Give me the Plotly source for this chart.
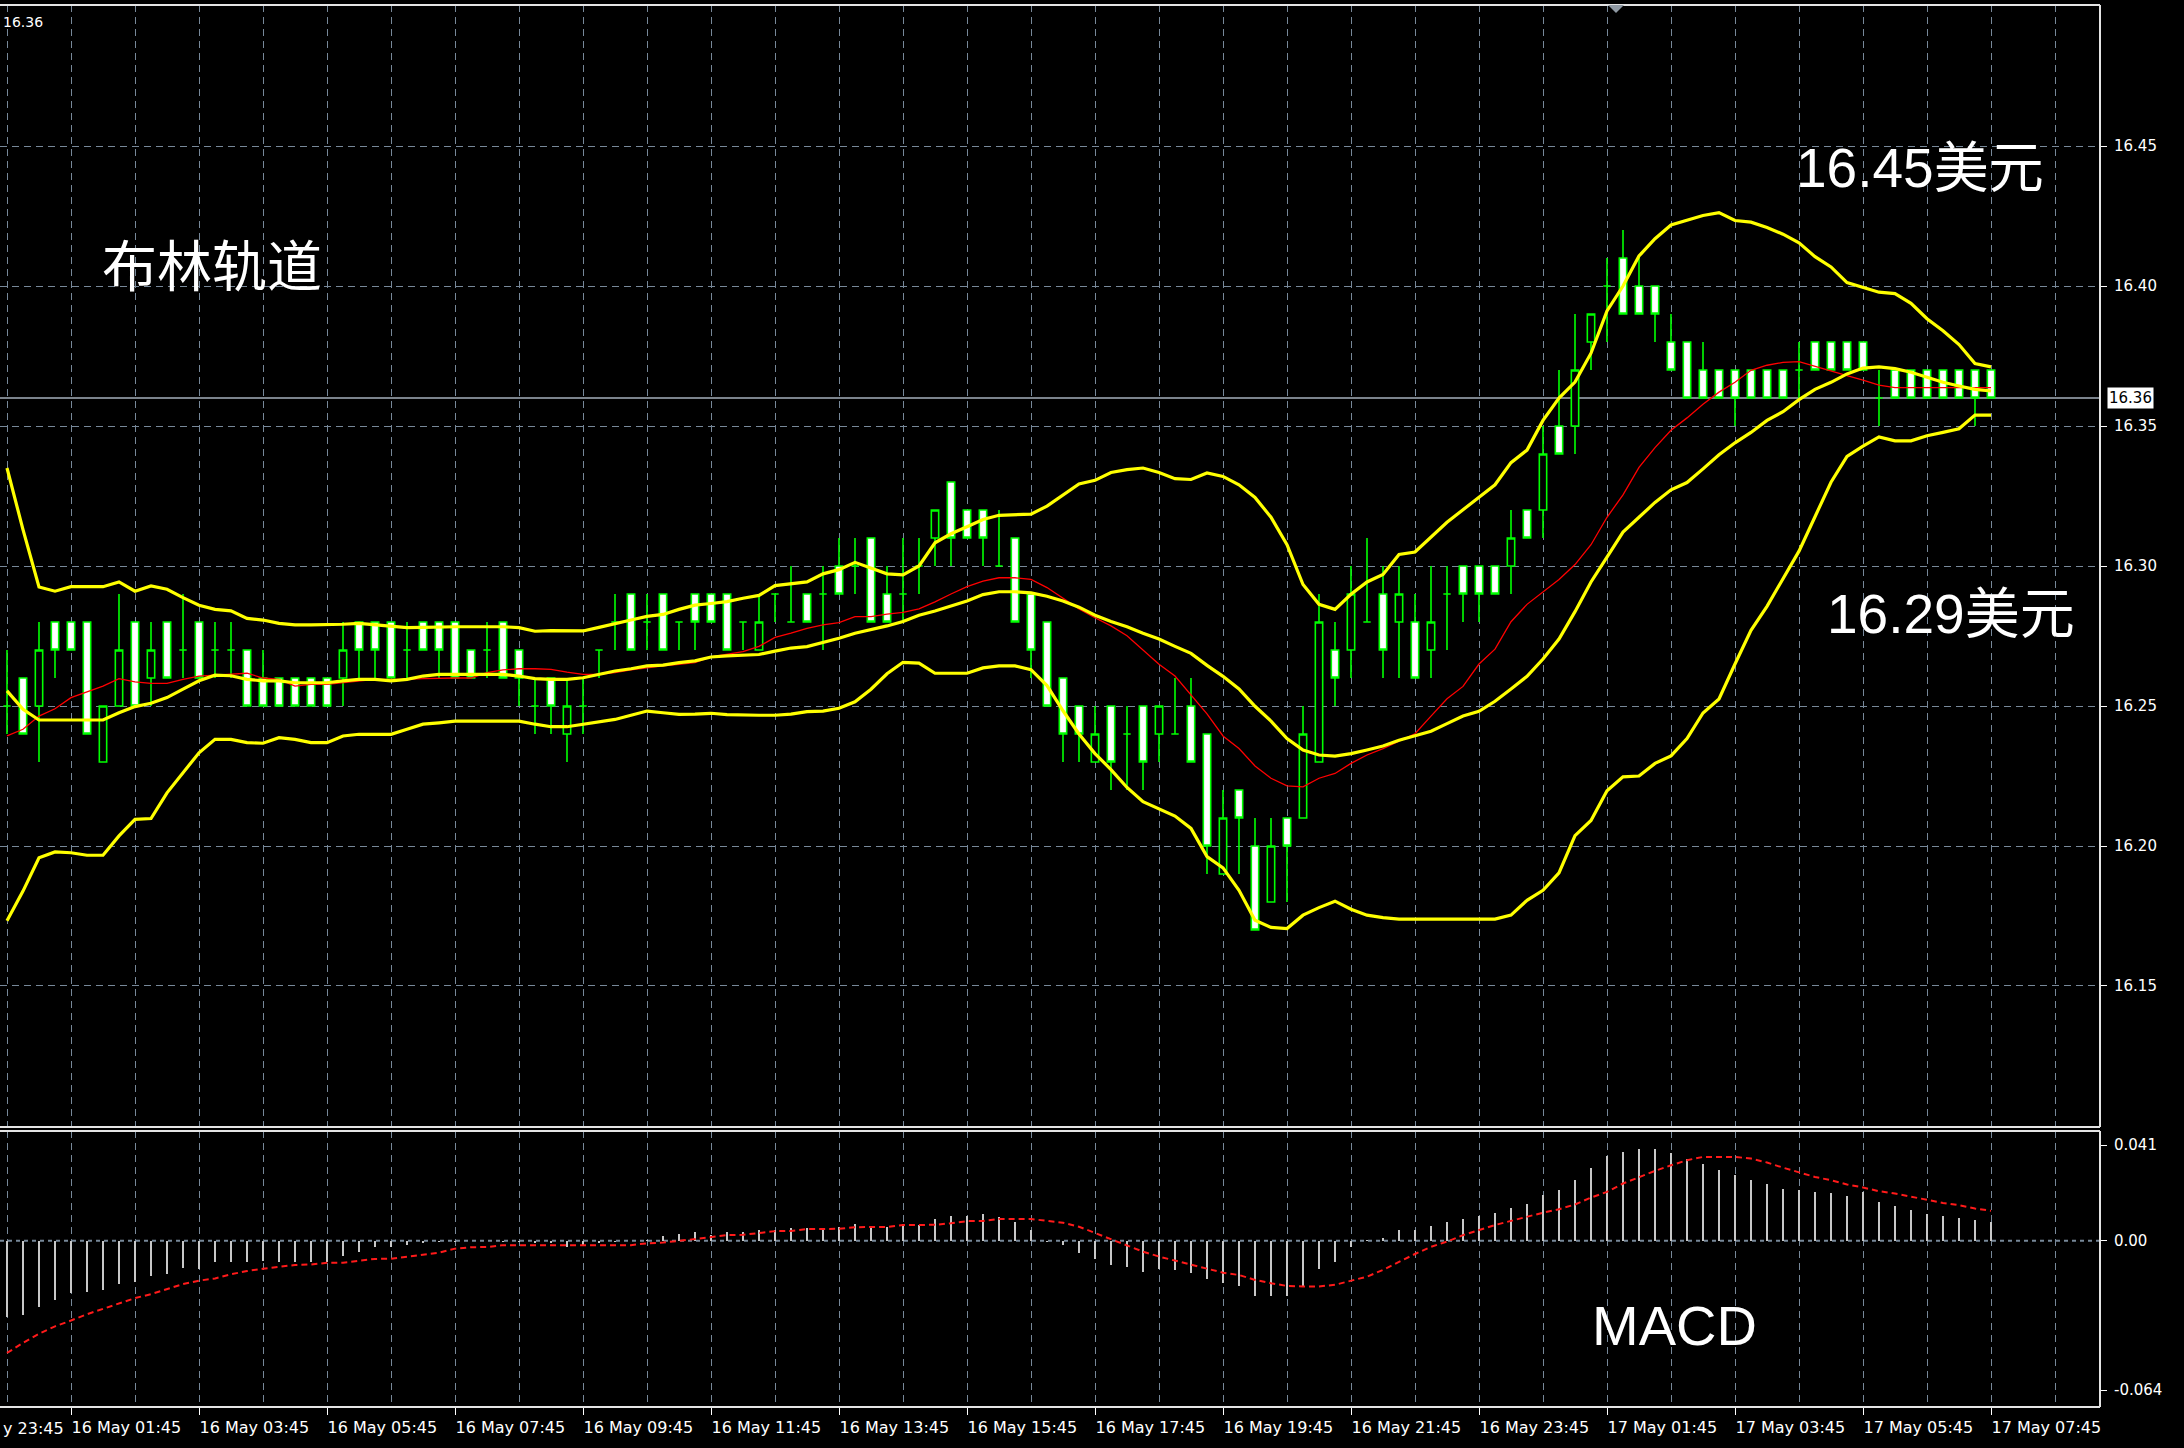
import plotly.graph_objects as go

# ---------------- data (M15 bars, 16 May 00:45 -> 17 May 07:45) ----------------
bars = list(range(125))

open_ = [
16.25,16.26,16.25,16.28,16.28,16.28,16.23,16.25,16.28,16.26,
16.28,16.27,16.28,16.27,16.27,16.27,16.26,16.26,16.26,16.26,
16.26,16.26,16.28,16.28,16.28,16.27,16.28,16.28,16.28,16.27,
16.27,16.28,16.27,16.25,16.26,16.24,16.25,16.27,16.28,16.29,
16.28,16.29,16.28,16.29,16.29,16.29,16.28,16.27,16.29,16.28,
16.29,16.29,16.30,16.30,16.31,16.29,16.29,16.30,16.31,16.33,
16.32,16.32,16.30,16.31,16.29,16.28,16.26,16.25,16.23,16.25,
16.24,16.25,16.24,16.24,16.25,16.24,16.19,16.22,16.20,16.18,
16.21,16.21,16.23,16.27,16.27,16.28,16.29,16.28,16.28,16.27,
16.29,16.30,16.30,16.30,16.30,16.32,16.32,16.35,16.35,16.38,
16.40,16.41,16.40,16.40,16.38,16.38,16.37,16.37,16.37,16.37,
16.37,16.37,16.37,16.38,16.38,16.38,16.38,16.36,16.37,16.37,
16.37,16.37,16.37,16.37,16.37]

high = [
16.27,16.26,16.28,16.28,16.28,16.28,16.25,16.29,16.28,16.28,
16.28,16.29,16.28,16.28,16.28,16.27,16.27,16.26,16.26,16.26,
16.26,16.28,16.28,16.28,16.28,16.28,16.28,16.28,16.28,16.27,
16.28,16.28,16.27,16.26,16.26,16.26,16.26,16.27,16.29,16.29,
16.29,16.29,16.28,16.29,16.29,16.29,16.28,16.29,16.29,16.30,
16.29,16.30,16.31,16.31,16.31,16.30,16.31,16.31,16.32,16.33,
16.32,16.32,16.32,16.31,16.29,16.28,16.26,16.25,16.25,16.25,
16.25,16.25,16.25,16.26,16.26,16.24,16.22,16.22,16.21,16.21,
16.21,16.25,16.29,16.28,16.30,16.31,16.30,16.30,16.29,16.30,
16.30,16.30,16.30,16.30,16.32,16.32,16.35,16.37,16.39,16.39,
16.41,16.42,16.41,16.40,16.39,16.38,16.38,16.37,16.37,16.37,
16.37,16.37,16.38,16.38,16.38,16.38,16.38,16.37,16.37,16.37,
16.37,16.37,16.37,16.37,16.37]

low = [
16.24,16.24,16.23,16.26,16.27,16.24,16.23,16.25,16.25,16.25,
16.26,16.26,16.26,16.26,16.26,16.25,16.25,16.25,16.25,16.25,
16.25,16.25,16.26,16.26,16.26,16.26,16.27,16.26,16.26,16.26,
16.26,16.26,16.25,16.24,16.24,16.23,16.24,16.26,16.27,16.27,
16.27,16.27,16.27,16.27,16.28,16.27,16.27,16.27,16.28,16.28,
16.28,16.27,16.29,16.29,16.28,16.28,16.28,16.29,16.30,16.30,
16.31,16.30,16.30,16.28,16.26,16.25,16.23,16.23,16.23,16.22,
16.22,16.22,16.23,16.24,16.23,16.19,16.19,16.19,16.17,16.18,
16.18,16.21,16.23,16.25,16.26,16.28,16.26,16.26,16.26,16.26,
16.27,16.28,16.28,16.29,16.29,16.31,16.31,16.34,16.34,16.37,
16.38,16.39,16.39,16.38,16.37,16.36,16.36,16.36,16.35,16.36,
16.36,16.36,16.36,16.37,16.37,16.37,16.37,16.35,16.36,16.36,
16.36,16.36,16.36,16.35,16.36]

close = [
16.25,16.24,16.27,16.27,16.27,16.24,16.25,16.27,16.25,16.27,
16.26,16.27,16.26,16.27,16.27,16.25,16.25,16.25,16.25,16.25,
16.25,16.27,16.27,16.27,16.26,16.27,16.27,16.27,16.26,16.26,
16.27,16.26,16.26,16.25,16.25,16.25,16.25,16.27,16.28,16.27,
16.28,16.27,16.28,16.28,16.28,16.27,16.28,16.28,16.29,16.28,
16.28,16.29,16.29,16.30,16.28,16.28,16.29,16.30,16.32,16.31,
16.31,16.31,16.30,16.28,16.27,16.25,16.24,16.24,16.24,16.23,
16.24,16.23,16.25,16.24,16.23,16.20,16.21,16.21,16.17,16.20,
16.20,16.24,16.28,16.26,16.29,16.28,16.27,16.29,16.26,16.28,
16.29,16.29,16.29,16.29,16.31,16.31,16.34,16.34,16.37,16.39,
16.40,16.39,16.39,16.39,16.37,16.36,16.36,16.36,16.36,16.36,
16.36,16.36,16.37,16.37,16.37,16.37,16.37,16.36,16.36,16.36,
16.36,16.36,16.36,16.36,16.36]

boll_upper = [
16.335,16.313,16.2925,16.291,16.2926,16.2926,16.2926,16.2943,16.291,16.2929,
16.2917,16.2887,16.286,16.2845,16.284,16.2813,16.2807,16.2795,16.279,16.279,
16.279,16.2792,16.2795,16.279,16.2783,16.278,16.2781,16.2783,16.2783,16.2783,
16.2783,16.2783,16.278,16.2767,16.2769,16.2769,16.2768,16.2781,16.2795,16.2807,
16.282,16.2827,16.2845,16.286,16.2866,16.2873,16.2885,16.2895,16.293,16.2936,
16.2943,16.2972,16.2987,16.3013,16.2994,16.2972,16.2968,16.30,16.3083,16.3115,
16.314,16.3166,16.3181,16.3184,16.3185,16.3214,16.3255,16.3293,16.3306,16.3334,
16.3344,16.335,16.3334,16.3312,16.3309,16.3332,16.332,16.329,16.3245,16.3174,
16.3076,16.2934,16.2863,16.2845,16.2899,16.2943,16.297,16.3041,16.305,16.3103,
16.3156,16.3201,16.3245,16.329,16.3369,16.3414,16.352,16.36,16.3657,16.376,
16.3911,16.40,16.4107,16.4169,16.4218,16.4236,16.4252,16.4262,16.4234,16.4228,
16.4209,16.4185,16.4154,16.4105,16.4068,16.4012,16.3994,16.3978,16.3973,16.3938,
16.3883,16.384,16.3791,16.3723,16.3711]

boll_middle = [
16.2554,16.2488,16.245,16.245,16.245,16.245,16.245,16.2476,16.2498,16.251,
16.253,16.256,16.259,16.261,16.2608,16.2595,16.259,16.259,16.2583,16.2583,
16.2583,16.259,16.2595,16.2595,16.259,16.2595,16.2607,16.2613,16.2613,16.2613,
16.2613,16.2613,16.2607,16.2598,16.2595,16.2595,16.2601,16.2613,16.2625,16.2633,
16.2643,16.2646,16.2655,16.2661,16.2675,16.2679,16.2681,16.2684,16.2696,16.2707,
16.2712,16.2726,16.2742,16.276,16.2773,16.2786,16.2802,16.2824,16.2839,16.2857,
16.2875,16.2898,16.2908,16.2908,16.2904,16.2892,16.2875,16.2853,16.2824,16.2802,
16.2783,16.276,16.2739,16.2713,16.2688,16.2645,16.2606,16.2561,16.2499,16.2446,
16.2384,16.2343,16.2325,16.2321,16.233,16.2343,16.2357,16.2378,16.2393,16.241,
16.2437,16.2464,16.2481,16.2517,16.2561,16.2606,16.2668,16.2739,16.2837,16.2943,
16.3032,16.3121,16.3174,16.3227,16.3272,16.3298,16.3347,16.3397,16.344,16.3477,
16.352,16.3551,16.3594,16.3631,16.3656,16.3686,16.3707,16.3711,16.3705,16.3692,
16.3674,16.3656,16.3643,16.3631,16.3625]

boll_lower = [
16.1733,16.1839,16.1958,16.1979,16.1976,16.1967,16.1967,16.2036,16.2095,16.2098,
16.219,16.2262,16.2333,16.2381,16.2381,16.2369,16.2367,16.2387,16.2381,16.2369,
16.2369,16.2393,16.2399,16.2399,16.2399,16.2417,16.2435,16.244,16.2446,16.2446,
16.2446,16.2446,16.2446,16.2435,16.2426,16.2426,16.2435,16.2443,16.2452,16.2467,
16.2482,16.2476,16.247,16.2471,16.2474,16.2469,16.2467,16.2467,16.2467,16.2471,
16.248,16.2482,16.2492,16.2515,16.256,16.2615,16.2656,16.2653,16.2617,16.2617,
16.2617,16.2636,16.2643,16.2643,16.263,16.2573,16.2483,16.24,16.233,16.2273,
16.2209,16.2158,16.2133,16.2107,16.2063,16.1962,16.1922,16.1842,16.1735,16.1709,
16.1705,16.1753,16.178,16.1803,16.1774,16.1753,16.1744,16.1739,16.1739,16.1739,
16.1739,16.1739,16.1739,16.1739,16.1753,16.1806,16.1842,16.1904,16.2037,16.2091,
16.2197,16.2247,16.225,16.2295,16.2322,16.2384,16.2475,16.2525,16.265,16.277,
16.2856,16.2955,16.3053,16.3176,16.3299,16.3391,16.3428,16.3461,16.3447,16.3447,
16.3465,16.3477,16.349,16.3539,16.3539]

ma_red = [
16.2393,16.2417,16.2464,16.249,16.253,16.255,16.2571,16.2598,16.2586,16.2581,
16.2581,16.2595,16.2607,16.261,16.2613,16.2617,16.26,16.2595,16.2571,16.2577,
16.2577,16.2583,16.2589,16.2595,16.2595,16.2595,16.2598,16.26,16.26,16.26,
16.2619,16.2629,16.2633,16.2633,16.2631,16.2621,16.2613,16.2613,16.2619,16.2629,
16.2637,16.2643,16.2649,16.2655,16.2675,16.2684,16.2694,16.2713,16.2745,16.276,
16.2777,16.279,16.2798,16.2819,16.2819,16.2828,16.2834,16.2847,16.2872,16.29,
16.2926,16.2946,16.2958,16.2958,16.2952,16.2923,16.2885,16.2847,16.2815,16.2786,
16.2751,16.27,16.2649,16.2607,16.2541,16.2472,16.2393,16.2348,16.2286,16.2242,
16.2215,16.2211,16.2242,16.2259,16.2295,16.2325,16.2348,16.2375,16.2401,16.2464,
16.2526,16.257,16.265,16.2703,16.2801,16.2863,16.2908,16.2952,16.3005,16.3076,
16.3174,16.3254,16.3352,16.3423,16.3485,16.3529,16.3578,16.3621,16.3656,16.3699,
16.3717,16.3727,16.373,16.3713,16.3695,16.368,16.3664,16.3646,16.3637,16.3637,
16.3637,16.3637,16.3637,16.3637,16.3637]

macd_main = [
-0.0327,-0.032,-0.0286,-0.0253,-0.0225,-0.0218,-0.0211,-0.0185,-0.0175,-0.015,
-0.0142,-0.0115,-0.0122,-0.009,-0.009,-0.009,-0.0088,-0.009,-0.009,-0.009,
-0.009,-0.0065,-0.0047,-0.0028,-0.0028,-0.0019,-0.0011,-0.0004,-0.0004,-0.0001,
-0.0001,-0.0004,-0.0004,-0.0011,-0.0011,-0.0026,-0.0018,-0.0011,-0.0004,0.0,
0.0003,0.002,0.0028,0.0038,0.0024,0.0038,0.0038,0.0048,0.0046,0.0053,
0.0053,0.0048,0.0057,0.0071,0.006,0.006,0.0071,0.0067,0.0095,0.0105,
0.0105,0.0114,0.0103,0.0081,0.0045,-0.0005,-0.0019,-0.0054,-0.008,-0.0104,
-0.0111,-0.0132,-0.0122,-0.0125,-0.014,-0.0165,-0.0182,-0.0194,-0.0235,-0.0235,
-0.0235,-0.0196,-0.0122,-0.009,-0.0028,0.0003,0.001,0.0048,0.0048,0.0063,
0.0081,0.0095,0.0105,0.0117,0.0138,0.0157,0.0195,0.0216,0.0259,0.0313,
0.0362,0.038,0.0394,0.0394,0.0376,0.0352,0.0327,0.0302,0.028,0.0259,
0.0242,0.0223,0.0216,0.0209,0.0205,0.019,0.0207,0.0167,0.0148,0.0131,
0.0114,0.0105,0.0098,0.0088,0.0081]

macd_signal = [
-0.0481,-0.0438,-0.0399,-0.0367,-0.0342,-0.0315,-0.0292,-0.0268,-0.0246,-0.0229,
-0.0206,-0.0186,-0.0171,-0.0162,-0.0144,-0.013,-0.012,-0.0111,-0.0104,-0.0102,
-0.0095,-0.0094,-0.0087,-0.0078,-0.0077,-0.0068,-0.0061,-0.0051,-0.0034,-0.0028,
-0.0027,-0.0019,-0.0019,-0.0019,-0.0019,-0.0019,-0.0019,-0.0019,-0.0019,-0.0019,
-0.0011,-0.0008,-0.0001,0.0007,0.0016,0.0024,0.0025,0.0033,0.0041,0.0042,
0.005,0.005,0.0051,0.0058,0.0058,0.0059,0.0067,0.0067,0.0068,0.0075,
0.0084,0.0084,0.0093,0.0093,0.0093,0.0085,0.0077,0.006,0.0034,0.0006,
-0.0019,-0.0047,-0.0068,-0.0085,-0.0104,-0.0118,-0.0137,-0.0147,-0.0168,-0.0182,
-0.0194,-0.0196,-0.0196,-0.0189,-0.0171,-0.0154,-0.0125,-0.009,-0.0057,-0.0026,
-0.0004,0.0024,0.0046,0.0067,0.0085,0.0103,0.012,0.0135,0.0155,0.0185,
0.0209,0.0245,0.0273,0.0299,0.0323,0.0345,0.0359,0.0359,0.0359,0.0352,
0.0335,0.0313,0.0292,0.0273,0.0259,0.0241,0.0228,0.0212,0.0202,0.0188,
0.0177,0.0162,0.0152,0.0138,0.0128]

tick_bars = [4, 12, 20, 28, 36, 44, 52, 60, 68, 76, 84, 92, 100, 108, 116, 124]
tick_labels = ["16 May 01:45", "16 May 03:45", "16 May 05:45", "16 May 07:45",
               "16 May 09:45", "16 May 11:45", "16 May 13:45", "16 May 15:45",
               "16 May 17:45", "16 May 19:45", "16 May 21:45", "16 May 23:45",
               "17 May 01:45", "17 May 03:45", "17 May 05:45", "17 May 07:45"]
cut_label = "y 23:45"   # visible tail of the "15 May 23:45" label at the left edge
price_ticks = [16.15, 16.20, 16.25, 16.30, 16.35, 16.40, 16.45]
macd_ticks = [-0.064, 0.0, 0.041]
macd_tick_labels = ["-0.064", "0.00", "0.041"]
last_price = close[-1]

# ---------------- geometry ----------------
W, H = 2184, 1448
ML, MR, MT, MB = 0, 84, 5, 41
PW = W - ML - MR
PH = H - MT - MB


def py(pix):
    return (H - MB - pix) / PH


def px(pix):
    return (pix - ML) / PW


GRID = "#778899"
FRAME = "#e4e4e4"
LIME = "#00ff00"
YELLOW = "#ffff00"
AXFONT = dict(family="DejaVu Sans", size=15, color="#ffffff")

fig = go.Figure()

fig.add_trace(go.Candlestick(
    x=bars, open=open_, high=high, low=low, close=close,
    increasing=dict(line=dict(color=LIME, width=1.6), fillcolor="#000000"),
    decreasing=dict(line=dict(color=LIME, width=1.6), fillcolor="#ffffff"),
    whiskerwidth=0, xaxis="x", yaxis="y", showlegend=False, hoverinfo="skip"))

fig.add_trace(go.Scatter(x=bars, y=ma_red, mode="lines",
                         line=dict(color="#ff0000", width=1.3),
                         xaxis="x", yaxis="y", showlegend=False, hoverinfo="skip"))
for band in (boll_upper, boll_middle, boll_lower):
    fig.add_trace(go.Scatter(x=bars, y=band, mode="lines",
                             line=dict(color=YELLOW, width=3.2),
                             xaxis="x", yaxis="y", showlegend=False, hoverinfo="skip"))

fig.add_trace(go.Bar(x=bars, y=macd_main, width=0.12,
                     marker=dict(color="#c8c8c8", line=dict(width=0)),
                     xaxis="x2", yaxis="y2", showlegend=False, hoverinfo="skip"))
fig.add_trace(go.Scatter(x=bars, y=macd_signal, mode="lines",
                         line=dict(color="#ff1a1a", width=2, dash="6px,4px"),
                         xaxis="x2", yaxis="y2", showlegend=False, hoverinfo="skip"))

xrange_ = [-0.4375, 130.8125]
xcommon = dict(range=xrange_, showgrid=True, gridcolor=GRID, gridwidth=1, griddash="7px,5px",
               zeroline=False, showline=False, fixedrange=True,
               tickmode="array", tickvals=tick_bars,
               minor=dict(tickmode="linear", tick0=0, dtick=4, showgrid=True,
                          gridcolor=GRID, gridwidth=1, griddash="7px,5px", ticks=""))

fig.update_layout(
    width=W, height=H,
    margin=dict(l=ML, r=MR, t=MT, b=MB, pad=0),
    paper_bgcolor="#000000", plot_bgcolor="#000000",
    showlegend=False, hovermode=False,
    boxgap=0.54, boxgroupgap=0,
    bargap=0,
    xaxis=dict(**xcommon, domain=[0, 1], anchor="y", showticklabels=False, ticks="",
               rangeslider=dict(visible=False)),
    xaxis2=dict(**xcommon, domain=[0, 1], anchor="y2", matches="x",
                ticktext=tick_labels, ticks="outside", ticklen=7, tickwidth=1,
                tickcolor="#ffffff", ticklabelposition="outside right",
                ticklabeloverflow="allow", ticklabelstandoff=6,
                tickfont=dict(family="DejaVu Sans", size=16, color="#ffffff")),
    yaxis=dict(domain=[py(1127), 1], range=[16.09964, 16.50036], side="right",
               anchor="x", tickmode="array", tickvals=price_ticks,
               ticktext=["%.2f" % v for v in price_ticks],
               showgrid=True, gridcolor=GRID, gridwidth=1, griddash="7px,5px",
               zeroline=False, showline=False, ticks="outside", ticklen=6,
               tickcolor="#ffffff", tickfont=AXFONT, fixedrange=True,
               ticklabelstandoff=4),
    yaxis2=dict(domain=[0, py(1131)], range=[-0.07125, 0.0470], side="right",
                anchor="x2", tickmode="array", tickvals=macd_ticks,
                ticktext=macd_tick_labels, showgrid=False, zeroline=False,
                showline=False, ticks="outside", ticklen=6, tickcolor="#ffffff",
                tickfont=AXFONT, fixedrange=True, ticklabelstandoff=4),
)

shapes = [
    # current price line
    dict(type="line", xref="paper", yref="y", x0=0, x1=1, y0=last_price, y1=last_price,
         line=dict(color="#a4afbb", width=1.5), layer="between"),
    # MACD zero level
    dict(type="line", xref="paper", yref="y2", x0=0, x1=1, y0=0, y1=0,
         line=dict(color=GRID, width=2, dash="4px,4px"), layer="between"),
    # panel frames
    dict(type="line", xref="paper", yref="paper", x0=0, x1=1, y0=1, y1=1,
         line=dict(color=FRAME, width=2)),
    dict(type="line", xref="paper", yref="paper", x0=0, x1=1, y0=py(1127), y1=py(1127),
         line=dict(color=FRAME, width=2)),
    dict(type="line", xref="paper", yref="paper", x0=0, x1=1, y0=py(1131), y1=py(1131),
         line=dict(color=FRAME, width=2)),
    dict(type="line", xref="paper", yref="paper", x0=0, x1=1, y0=0, y1=0,
         line=dict(color=FRAME, width=2)),
    dict(type="line", xref="paper", yref="paper", x0=1, x1=1, y0=py(1127), y1=1,
         line=dict(color=FRAME, width=2)),
    dict(type="line", xref="paper", yref="paper", x0=1, x1=1, y0=0, y1=py(1131),
         line=dict(color=FRAME, width=2)),
    # chart-shift marker
    dict(type="path", xref="paper", yref="paper",
         path="M %f,%f L %f,%f L %f,%f Z" % (px(1608), 1.0, px(1624), 1.0, px(1616), py(13)),
         fillcolor="#8f99a3", line=dict(width=0)),
]
fig.update_layout(shapes=shapes)

BIG = "Liberation Sans, Noto Sans CJK SC, sans-serif"
annotations = [
    dict(text="布林轨道", xref="paper", yref="paper", x=px(100), y=py(262),
         xanchor="left", yanchor="middle", showarrow=False,
         font=dict(family="Noto Sans CJK SC", size=55, color="#ffffff")),
    dict(text="16.45美元", xref="paper", yref="paper", x=px(1794), y=py(168),
         xanchor="left", yanchor="middle", showarrow=False,
         font=dict(family=BIG, size=55, color="#ffffff")),
    dict(text="16.29美元", xref="paper", yref="paper", x=px(1825), y=py(614),
         xanchor="left", yanchor="middle", showarrow=False,
         font=dict(family=BIG, size=55, color="#ffffff")),
    dict(text="MACD", xref="paper", yref="paper", x=px(1590), y=py(1325),
         xanchor="left", yanchor="middle", showarrow=False,
         font=dict(family=BIG, size=56, color="#ffffff")),
    dict(text="%.2f" % last_price, xref="paper", yref="paper", x=px(1), y=py(22),
         xanchor="left", yanchor="middle", showarrow=False,
         font=dict(family="DejaVu Sans", size=14, color="#ffffff")),
    dict(text="%.2f" % last_price, xref="paper", yref="y", x=px(2107), y=last_price,
         xanchor="left", yanchor="middle", showarrow=False, bgcolor="#ffffff",
         borderpad=1, font=dict(family="DejaVu Sans", size=15, color="#000000")),
    dict(text=cut_label, xref="paper", yref="paper", x=px(1), y=py(1428),
         xanchor="left", yanchor="middle", showarrow=False,
         font=dict(family="DejaVu Sans", size=16, color="#ffffff")),
]
fig.update_layout(annotations=annotations)

fig.write_html("out.html",
               config={"displayModeBar": False, "staticPlot": True},
               post_script="document.body.style.margin='0';document.body.style.overflow='hidden';")
